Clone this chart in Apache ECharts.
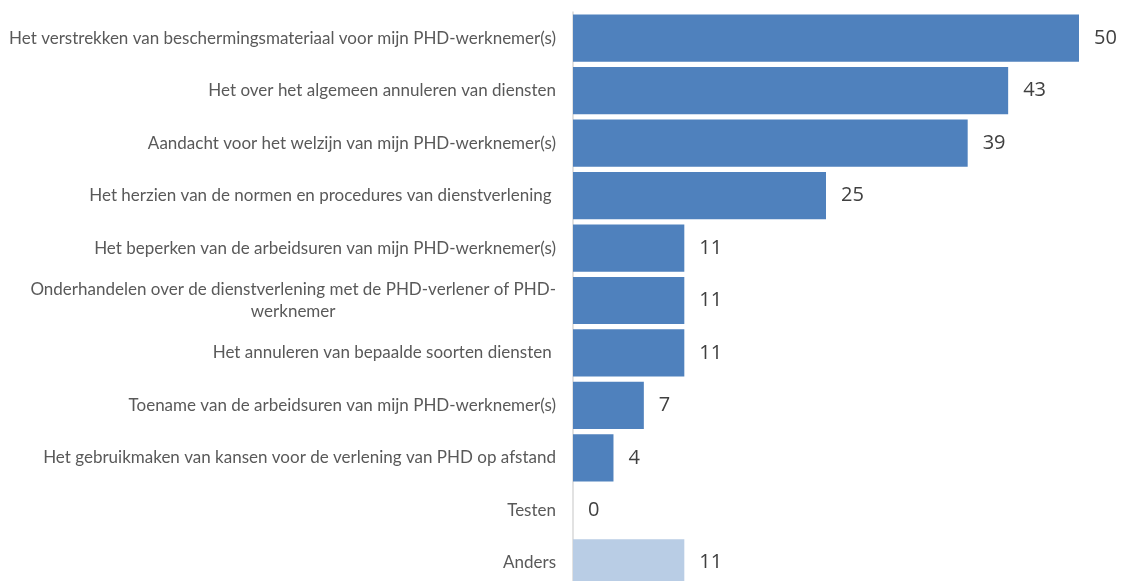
<!DOCTYPE html>
<html><head><meta charset="utf-8">
<script src="https://cdn.jsdelivr.net/npm/echarts@6/dist/echarts.min.js"></script>
<style>html,body{margin:0;padding:0;background:#fff}#c{width:1121px;height:581px}</style>
</head><body><div id="c"></div>
<script>
var categories = [
  "Het verstrekken van beschermingsmateriaal voor mijn PHD-werknemer(s)",
  "Het over het algemeen annuleren van diensten",
  "Aandacht voor het welzijn van mijn PHD-werknemer(s)",
  "Het herzien van de normen en procedures van dienstverlening ",
  "Het beperken van de arbeidsuren van mijn PHD-werknemer(s)",
  "Onderhandelen over de dienstverlening met de PHD-verlener of PHD-\nwerknemer",
  "Het annuleren van bepaalde soorten diensten ",
  "Toename van de arbeidsuren van mijn PHD-werknemer(s)",
  "Het gebruikmaken van kansen voor de verlening van PHD op afstand",
  "Testen",
  "Anders"
];
var values = [50, 43, 39, 25, 11, 11, 11, 7, 4, 0, 11];
var highlightCategory = "Anders";

var chart = echarts.init(document.getElementById('c'));
var labelFont = 'Lato';
chart.setOption({
  animation: false,
  grid: { left: 573, right: 42, top: 12, height: 577, containLabel: false, outerBoundsMode: 'none' },
  xAxis: { type: 'value', min: 0, max: 50, show: false },
  yAxis: {
    type: 'category', data: categories, inverse: true,
    axisLine: { show: true, lineStyle: { color: '#d9d9d9', width: 1.5 } },
    axisTick: { show: false },
    axisLabel: {
      margin: 17, align: 'right', color: '#595959', fontFamily: labelFont, fontSize: 17,
      formatter: function (v) {
        return v.split('\n').map(function (l) { return '{c|' + l + '}'; }).join('\n');
      },
      rich: { c: { align: 'center', color: '#595959', fontFamily: labelFont, fontSize: 17, lineHeight: 22 } }
    }
  },
  series: [{
    type: 'bar',
    barCategoryGap: '10%',
    data: values.map(function (v, i) {
      return { value: v, itemStyle: { color: categories[i] === highlightCategory ? '#b9cde5' : '#4f81bd' } };
    }),
    label: { show: true, position: 'right', distance: 15, color: '#404040', fontFamily: 'Open Sans', fontSize: 20 }
  }]
});
</script></body></html>
